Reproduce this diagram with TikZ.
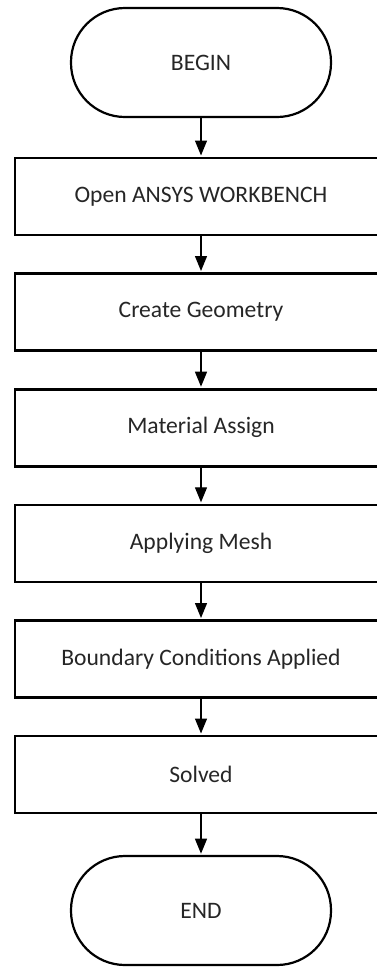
\documentclass[tikz,border=0pt]{standalone}
\usepackage{fontspec}
\setmainfont{Carlito}
\usetikzlibrary{arrows.meta,positioning}

\tikzset{
  terminal/.style={draw=black, line width=2.2pt, rounded corners=54pt,
    minimum width=260pt, minimum height=109pt, inner sep=0pt,
    font=\fontsize{23.6}{28}\selectfont, text=black!85},
  stepbox/.style={draw=black, line width=2.6pt,
    minimum width=372pt, minimum height=77pt, inner sep=0pt,
    font=\fontsize{23.6}{28}\selectfont, text=black!85},
  flow/.style={line width=1.3pt,
    -{Triangle[width=12pt,length=15pt]}, shorten >=1.2pt}
}

\begin{document}
\begin{tikzpicture}[x=1pt, y=-1pt]
  \useasboundingbox (0,0) rectangle (377,967);
  \clip (0,0) rectangle (377,967);

  \node[terminal] (begin) at (201,62.5)  {BEGIN};
  \node[stepbox]  (s1)    at (201,196.5) {Open ANSYS WORKBENCH};
  \node[stepbox]  (s2)    at (201,312)   {Create Geometry};
  \node[stepbox]  (s3)    at (201,427.7) {Material Assign};
  \node[stepbox]  (s4)    at (201,543.3) {Applying Mesh};
  \node[stepbox]  (s5)    at (201,659)   {Boundary Conditions Applied};
  \node[stepbox]  (s6)    at (201,774.5) {Solved};
  \node[terminal] (finish) at (201,910.5) {END};

  \foreach \a/\b in {begin/s1, s1/s2, s2/s3, s3/s4, s4/s5, s5/s6, s6/finish}
    \draw[flow] (\a) -- (\b);
\end{tikzpicture}
\end{document}
